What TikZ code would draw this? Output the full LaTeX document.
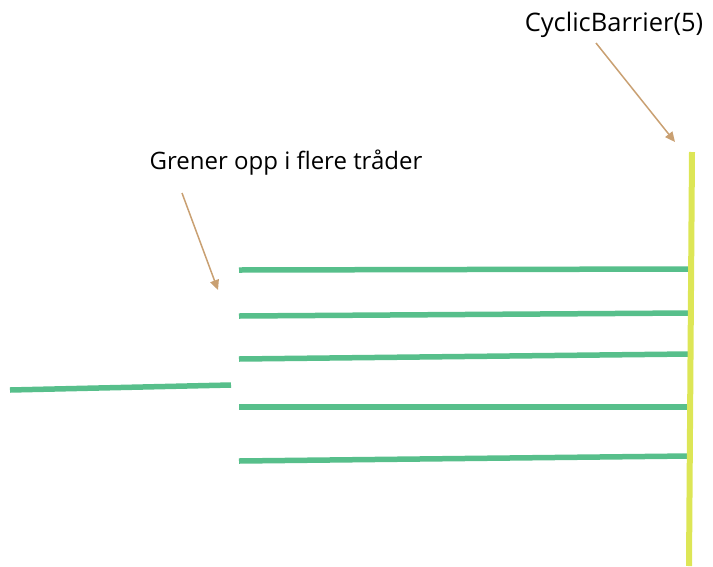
\documentclass[tikz,border=0pt]{standalone}
\usepackage{fontspec}
\setmainfont{Open Sans}
\usetikzlibrary{arrows.meta}
\definecolor{thread}{HTML}{57BF8B}
\definecolor{barrier}{HTML}{DDE656}
\definecolor{pointer}{HTML}{C9A072}
\tikzset{
  threadline/.style={draw=thread, line width=5.5pt},
  barrierline/.style={draw=barrier, line width=6pt},
  pointerarrow/.style={draw=pointer, line width=1.5pt, -{Triangle[length=10pt,width=9pt]}},
  label/.style={inner sep=0pt}
}
\begin{document}
\begin{tikzpicture}[x=1pt,y=-1pt]
\useasboundingbox (0,0) rectangle (713,566);
% main thread
\coordinate (m0) at (10,390);
\coordinate (m1) at (231,385);
\draw[threadline] (m0) -- (m1);
% branches
\coordinate (a0) at (239,270); \coordinate (a1) at (689,269);
\coordinate (b0) at (239,316); \coordinate (b1) at (689,313);
\coordinate (c0) at (239,359); \coordinate (c1) at (689,354);
\coordinate (d0) at (239,407); \coordinate (d1) at (689,407);
\coordinate (e0) at (239,461); \coordinate (e1) at (689,456);
\draw[threadline] (a0) -- (a1);
\draw[threadline] (b0) -- (b1);
\draw[threadline] (c0) -- (c1);
\draw[threadline] (d0) -- (d1);
\draw[threadline] (e0) -- (e1);
% barrier
\coordinate (y0) at (692,152);
\coordinate (y1) at (689,566);
\draw[barrierline] (y0) -- (y1);
% labels
\node[label, font=\fontsize{25.5pt}{30pt}\selectfont] (cb) at (614,25) {CyclicBarrier(5)};
\node[label, font=\fontsize{24pt}{29pt}\selectfont] (gr) at (286,163) {Grener opp i flere tråder};
\coordinate (cbs) at (596,43);
\coordinate (cbe) at (675,142);
\coordinate (grs) at (182,193);
\coordinate (gre) at (218,290);
\draw[pointerarrow] (cbs) -- (cbe);
\draw[pointerarrow] (grs) -- (gre);
\end{tikzpicture}
\end{document}
